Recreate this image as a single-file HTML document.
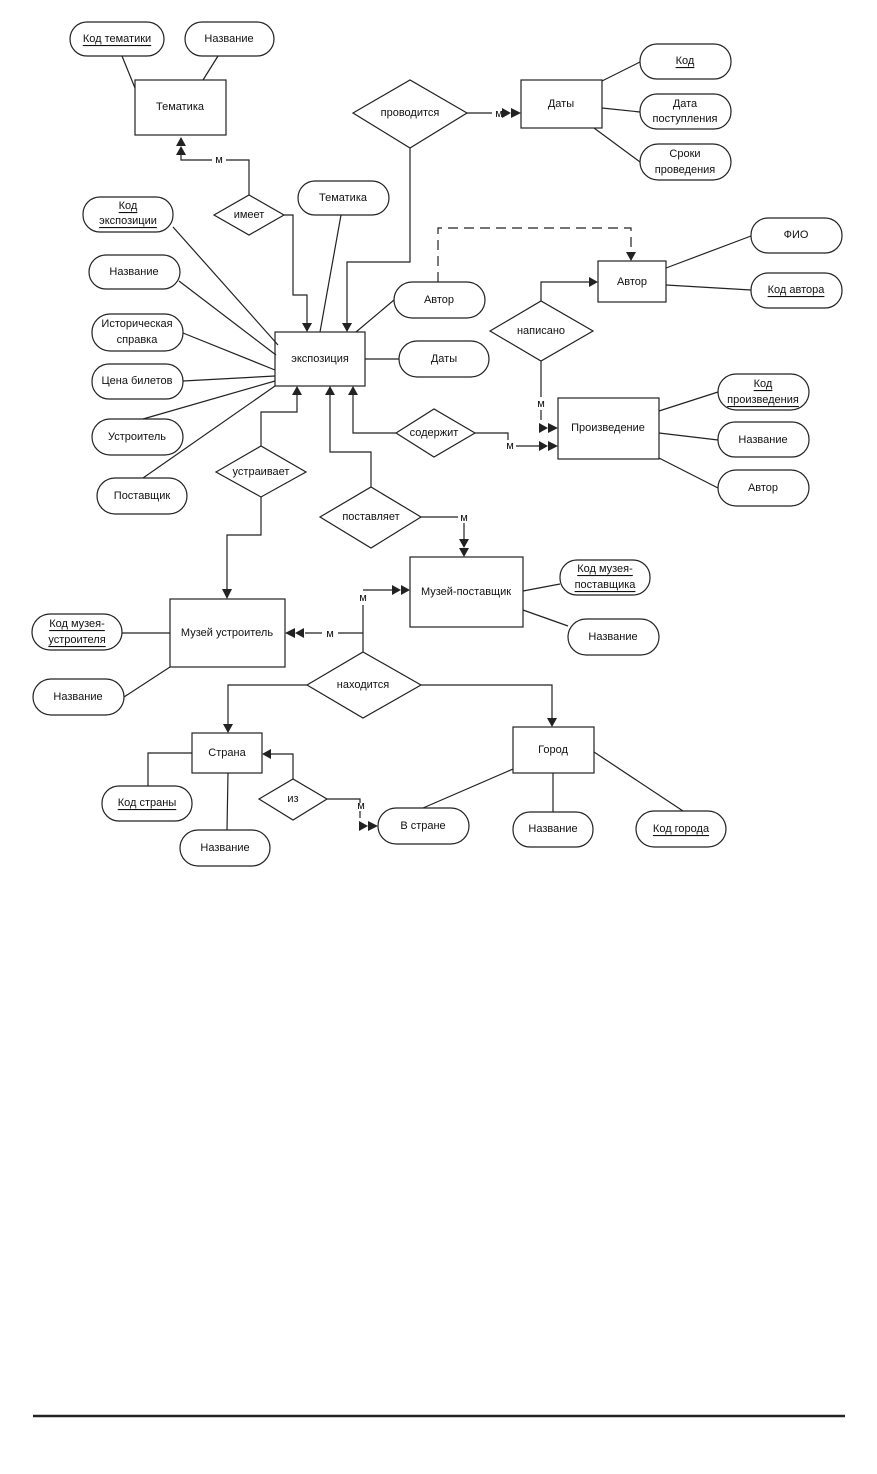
<!DOCTYPE html>
<html><head><meta charset="utf-8"><style>
html,body{margin:0;padding:0;background:#fff;}
svg{display:block}
text{font-family:"Liberation Sans","DejaVu Sans",sans-serif;font-size:11px;fill:#111;text-anchor:middle;dominant-baseline:central}
.u{text-decoration:underline}
</style></head><body>
<svg width="877" height="1474" viewBox="0 0 877 1474" xmlns="http://www.w3.org/2000/svg">
<g fill="none" stroke="#222" stroke-width="1.2">
<!-- ovals -->
<rect x="70" y="22" width="94" height="34" rx="17"/>
<rect x="185" y="22" width="89" height="34" rx="17"/>
<rect x="298" y="181" width="91" height="34" rx="17"/>
<rect x="640" y="44" width="91" height="35" rx="17"/>
<rect x="640" y="94" width="91" height="35" rx="17"/>
<rect x="640" y="144" width="91" height="36" rx="18"/>
<rect x="83" y="197" width="90" height="35" rx="17"/>
<rect x="89" y="255" width="91" height="34" rx="17"/>
<rect x="92" y="314" width="91" height="37" rx="18"/>
<rect x="92" y="364" width="91" height="35" rx="17"/>
<rect x="92" y="419" width="91" height="36" rx="18"/>
<rect x="97" y="478" width="90" height="36" rx="18"/>
<rect x="394" y="282" width="91" height="36" rx="18"/>
<rect x="399" y="341" width="90" height="36" rx="18"/>
<rect x="751" y="218" width="91" height="35" rx="17"/>
<rect x="751" y="273" width="91" height="35" rx="17"/>
<rect x="718" y="374" width="91" height="36" rx="18"/>
<rect x="718" y="422" width="91" height="35" rx="17"/>
<rect x="718" y="470" width="91" height="36" rx="18"/>
<rect x="560" y="560" width="90" height="35" rx="17"/>
<rect x="568" y="619" width="91" height="36" rx="18"/>
<rect x="32" y="614" width="90" height="36" rx="18"/>
<rect x="33" y="679" width="91" height="36" rx="18"/>
<rect x="102" y="786" width="90" height="35" rx="17"/>
<rect x="180" y="830" width="90" height="36" rx="18"/>
<rect x="378" y="808" width="91" height="36" rx="18"/>
<rect x="513" y="812" width="80" height="35" rx="17"/>
<rect x="636" y="811" width="90" height="36" rx="18"/>
<!-- entities -->
<rect x="135" y="80" width="91" height="55"/>
<rect x="521" y="80" width="81" height="48"/>
<rect x="275" y="332" width="90" height="54"/>
<rect x="598" y="261" width="68" height="41"/>
<rect x="558" y="398" width="101" height="61"/>
<rect x="410" y="557" width="113" height="70"/>
<rect x="170" y="599" width="115" height="68"/>
<rect x="192" y="733" width="70" height="40"/>
<rect x="513" y="727" width="81" height="46"/>
<!-- diamonds -->
<polygon points="214,215 249,195 284,215 249,235"/>
<polygon points="353,113 410,80 467,113 410,148"/>
<polygon points="490,331 541,301 593,331 541,361"/>
<polygon points="396,433 434,409 475,433 434,457"/>
<polygon points="216,472 261,446 306,472 261,497"/>
<polygon points="320,517 371,487 421,517 371,548"/>
<polygon points="307,685 363,652 421,685 363,718"/>
<polygon points="259,799 293,779 327,799 293,820"/>
<!-- attribute lines -->
<line x1="122" y1="56" x2="135" y2="88"/>
<line x1="218" y1="56" x2="203" y2="80"/>
<line x1="341" y1="215" x2="320" y2="332"/>
<line x1="602" y1="81" x2="640" y2="62"/>
<line x1="602" y1="108" x2="640" y2="112"/>
<line x1="594" y1="128" x2="640" y2="162"/>
<line x1="173" y1="227" x2="278" y2="345"/>
<line x1="179" y1="281" x2="276" y2="355"/>
<line x1="183" y1="333" x2="275" y2="370"/>
<line x1="183" y1="381" x2="275" y2="376"/>
<line x1="143" y1="419" x2="275" y2="381"/>
<line x1="143" y1="478" x2="275" y2="386"/>
<line x1="356" y1="332" x2="394" y2="300"/>
<line x1="365" y1="359" x2="399" y2="359"/>
<line x1="666" y1="268" x2="751" y2="236"/>
<line x1="666" y1="285" x2="751" y2="290"/>
<line x1="659" y1="411" x2="718" y2="392"/>
<line x1="659" y1="433" x2="718" y2="440"/>
<line x1="659" y1="458" x2="718" y2="488"/>
<line x1="523" y1="591" x2="560" y2="584"/>
<line x1="523" y1="610" x2="568" y2="626"/>
<line x1="122" y1="633" x2="170" y2="633"/>
<line x1="124" y1="697" x2="170" y2="667"/>
<polyline points="192,753 148,753 148,786"/>
<line x1="228" y1="773" x2="227" y2="830"/>
<line x1="513" y1="769" x2="423" y2="808"/>
<line x1="553" y1="773" x2="553" y2="812"/>
<line x1="594" y1="752" x2="683" y2="811"/>
<!-- relationship connectors -->
<polyline points="249,195 249,160 226,160"/><polyline points="212,160 181,160 181,155"/>
<polyline points="284,215 293,215 293,295 307,295 307,324"/>
<polyline points="467,113 492,113"/><line x1="505" y1="113" x2="506" y2="113"/>
<polyline points="410,148 410,262 347,262 347,324"/>
<polyline points="438,282 438,228 631,228 631,253" stroke-dasharray="10,6"/>
<polyline points="541,301 541,282 590,282"/>
<polyline points="541,361 541,397"/><line x1="541" y1="410" x2="541" y2="420"/>
<polyline points="396,433 353,433 353,394"/>
<polyline points="475,433 508,433 508,440"/><line x1="516" y1="446" x2="540" y2="446"/>
<polyline points="261,446 261,412 297,412 297,394"/>
<polyline points="261,497 261,535 227,535 227,590"/>
<polyline points="371,487 371,452 330,452 330,394"/>
<polyline points="421,517 458,517"/><line x1="464" y1="523" x2="464" y2="540"/>
<polyline points="363,652 363,605"/><polyline points="363,590 363,590 392,590"/>
<polyline points="363,633 338,633"/><line x1="322" y1="633" x2="305" y2="633"/>
<polyline points="307,685 228,685 228,725"/>
<polyline points="421,685 552,685 552,719"/>
<polyline points="293,779 293,754 271,754"/>
<polyline points="327,799 360,799 360,803"/><line x1="360" y1="811" x2="360" y2="818"/>
<line x1="33" y1="1416" x2="845" y2="1416" stroke-width="2.5"/>
</g>
<g fill="#222" stroke="none">
<!-- Тематика double up -->
<polygon points="176,146 186,146 181,137"/><polygon points="176,155 186,155 181,146"/>
<!-- single down arrows into экспозиция -->
<polygon points="302,323 312,323 307,332"/>
<polygon points="342,323 352,323 347,332"/>
<polygon points="626,252 636,252 631,261"/>
<!-- Даты double right -->
<polygon points="502,108 502,118 511,113"/><polygon points="511,108 511,118 521,113"/>
<!-- Автор rect right -->
<polygon points="589,277 589,287 598,282"/>
<!-- Произведение doubles -->
<polygon points="539,423 539,433 548,428"/><polygon points="548,423 548,433 558,428"/>
<polygon points="539,441 539,451 548,446"/><polygon points="548,441 548,451 558,446"/>
<!-- up arrows into экспозиция bottom -->
<polygon points="348,395 358,395 353,386"/>
<polygon points="292,395 302,395 297,386"/>
<polygon points="325,395 335,395 330,386"/>
<!-- Музей устроитель top -->
<polygon points="222,589 232,589 227,599"/>
<!-- Музей-поставщик double down -->
<polygon points="459,539 469,539 464,548"/><polygon points="459,548 469,548 464,557"/>
<!-- Музей-поставщик double right -->
<polygon points="392,585 392,595 401,590"/><polygon points="401,585 401,595 410,590"/>
<!-- Музей устроитель double left -->
<polygon points="304,628 304,638 295,633"/><polygon points="295,628 295,638 285,633"/>
<!-- Страна / Город -->
<polygon points="223,724 233,724 228,733"/>
<polygon points="547,718 557,718 552,727"/>
<polygon points="271,749 271,759 262,754"/>
<!-- В стране double -->
<polygon points="359,821 359,831 368,826"/><polygon points="368,821 368,831 378,826"/>
</g>
<!-- labels -->
<text x="117" y="39" class="u" text-decoration="underline">Код тематики</text>
<text x="229" y="39">Название</text>
<text x="180" y="107">Тематика</text>
<text x="249" y="215">имеет</text>
<text x="219" y="160" font-size="10">м</text>
<text x="343" y="198">Тематика</text>
<text x="410" y="113">проводится</text>
<text x="499" y="114" font-size="10">м</text>
<text x="561" y="104">Даты</text>
<text x="685" y="61" text-decoration="underline">Код</text>
<text x="685" y="104">Дата</text><text x="685" y="119">поступления</text>
<text x="685" y="154">Сроки</text><text x="685" y="170">проведения</text>
<text x="128" y="206" text-decoration="underline">Код</text><text x="128" y="221" text-decoration="underline">экспозиции</text>
<text x="134" y="272">Название</text>
<text x="137" y="324">Историческая</text><text x="137" y="340">справка</text>
<text x="137" y="381">Цена билетов</text>
<text x="137" y="437">Устроитель</text>
<text x="142" y="496">Поставщик</text>
<text x="320" y="359">экспозиция</text>
<text x="439" y="300">Автор</text>
<text x="444" y="359">Даты</text>
<text x="632" y="282">Автор</text>
<text x="796" y="235">ФИО</text>
<text x="796" y="290" text-decoration="underline">Код автора</text>
<text x="541" y="331">написано</text>
<text x="541" y="404" font-size="10">м</text>
<text x="608" y="428">Произведение</text>
<text x="763" y="384" text-decoration="underline">Код</text><text x="763" y="400" text-decoration="underline">произведения</text>
<text x="763" y="440">Название</text>
<text x="763" y="488">Автор</text>
<text x="434" y="433">содержит</text>
<text x="510" y="446" font-size="10">м</text>
<text x="261" y="472">устраивает</text>
<text x="371" y="517">поставляет</text>
<text x="464" y="518" font-size="10">м</text>
<text x="466" y="592">Музей-поставщик</text>
<text x="605" y="569" text-decoration="underline">Код музея-</text><text x="605" y="585" text-decoration="underline">поставщика</text>
<text x="613" y="637">Название</text>
<text x="227" y="633">Музей устроитель</text>
<text x="77" y="624" text-decoration="underline">Код музея-</text><text x="77" y="640" text-decoration="underline">устроителя</text>
<text x="78" y="697">Название</text>
<text x="363" y="598" font-size="10">м</text>
<text x="330" y="634" font-size="10">м</text>
<text x="363" y="685">находится</text>
<text x="227" y="753">Страна</text>
<text x="553" y="750">Город</text>
<text x="147" y="803" text-decoration="underline">Код страны</text>
<text x="225" y="848">Название</text>
<text x="293" y="799">из</text>
<text x="361" y="806" font-size="10">м</text>
<text x="423" y="826">В стране</text>
<text x="553" y="829">Название</text>
<text x="681" y="829" text-decoration="underline">Код города</text>
</svg>
</body></html>
